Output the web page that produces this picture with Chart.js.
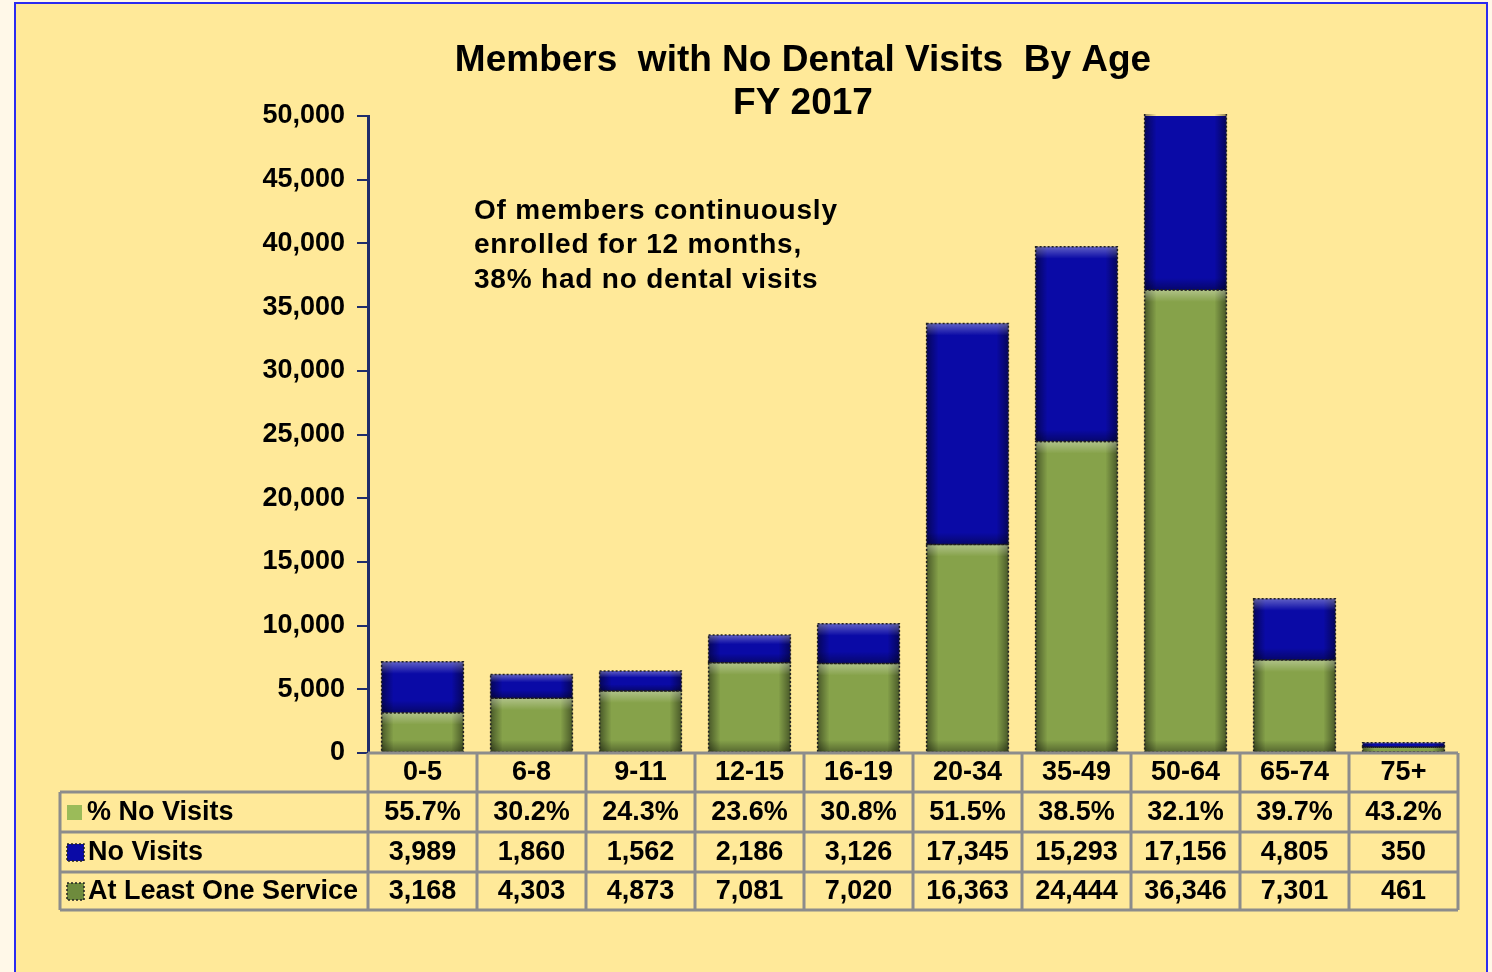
<!DOCTYPE html>
<html>
<head>
<meta charset="utf-8">
<script src="https://cdn.jsdelivr.net/npm/chart.js@4"></script>
<style>
  html, body { margin: 0; padding: 0; background: #FFF8E8; }
  canvas { display: block; }
</style>
</head>
<body>
<canvas id="myChart" width="1492" height="972"></canvas>
<script>
// chart data
let ageGroups = ['0-5', '6-8', '9-11', '12-15', '16-19', '20-34', '35-49', '50-64', '65-74', '75+'];
let noVisits = [3989, 1860, 1562, 2186, 3126, 17345, 15293, 17156, 4805, 350];
let atLeastOne = [3168, 4303, 4873, 7081, 7020, 16363, 24444, 36346, 7301, 461];
let pctNoVisits = ['55.7%', '30.2%', '24.3%', '23.6%', '30.8%', '51.5%', '38.5%', '32.1%', '39.7%', '43.2%'];
let titleLines = ['Members  with No Dental Visits  By Age', 'FY 2017'];
let noteLines = ['Of members continuously', 'enrolled for 12 months,', '38% had no dental visits'];

const FONT = '"Liberation Sans", Arial, sans-serif';
const BLUE = '#0A0AA6';
const GREEN = '#86A24A';

function fmt(n) {
  return n.toLocaleString('en-US');
}

// yellow panel with blue frame behind everything
const panelPlugin = {
  id: 'panel',
  beforeDraw(chart) {
    const ctx = chart.ctx;
    ctx.save();
    ctx.fillStyle = '#FFF8E8';
    ctx.fillRect(0, 0, chart.width, chart.height);
    ctx.fillStyle = '#FFE999';
    ctx.fillRect(16, 4, 1470, chart.height - 4);
    ctx.strokeStyle = '#2B2BF0';
    ctx.lineWidth = 2;
    ctx.beginPath();
    ctx.moveTo(15, chart.height);
    ctx.lineTo(15, 3);
    ctx.lineTo(1487, 3);
    ctx.lineTo(1487, chart.height);
    ctx.stroke();
    ctx.restore();
  }
};

// bevel shading on each bar segment
const bevelPlugin = {
  id: 'bevel',
  afterDatasetsDraw(chart) {
    const ctx = chart.ctx;
    const area = chart.chartArea;
    ctx.save();
    ctx.beginPath();
    ctx.rect(area.left, area.top - 2, area.right - area.left, area.bottom - area.top + 4);
    ctx.clip();
    chart.data.datasets.forEach((ds, di) => {
      chart.getDatasetMeta(di).data.forEach(el => {
        const p = el.getProps(['x', 'y', 'base', 'width'], true);
        const left = p.x - p.width / 2;
        const top = Math.min(p.y, p.base);
        const h = Math.abs(p.base - p.y);
        if (h < 1) return;
        const edge = Math.min(12, p.width / 6);
        let g = ctx.createLinearGradient(left, 0, left + edge, 0);
        g.addColorStop(0, 'rgba(0,0,0,0.45)');
        g.addColorStop(1, 'rgba(0,0,0,0)');
        ctx.fillStyle = g;
        ctx.fillRect(left, top, edge, h);
        g = ctx.createLinearGradient(left + p.width, 0, left + p.width - edge, 0);
        g.addColorStop(0, 'rgba(0,0,0,0.45)');
        g.addColorStop(1, 'rgba(0,0,0,0)');
        ctx.fillStyle = g;
        ctx.fillRect(left + p.width - edge, top, edge, h);
        const band = Math.min(12, h / 3);
        g = ctx.createLinearGradient(0, top, 0, top + band);
        g.addColorStop(0, 'rgba(255,255,255,0.35)');
        g.addColorStop(1, 'rgba(255,255,255,0)');
        ctx.fillStyle = g;
        ctx.fillRect(left, top, p.width, band);
        g = ctx.createLinearGradient(0, top + h, 0, top + h - band);
        g.addColorStop(0, 'rgba(0,0,0,0.35)');
        g.addColorStop(1, 'rgba(0,0,0,0)');
        ctx.fillStyle = g;
        ctx.fillRect(left, top + h - band, p.width, band);
        ctx.setLineDash([2, 2]);
        ctx.strokeStyle = '#222';
        ctx.lineWidth = 1.5;
        ctx.strokeRect(left, top, p.width, h);
        ctx.setLineDash([]);
      });
    });
    ctx.restore();
  }
};

// title, note and the data table under the bars
const tablePlugin = {
  id: 'dataTable',
  afterDraw(chart) {
    const ctx = chart.ctx;
    const xs = chart.scales.x;
    const area = chart.chartArea;
    const colW = (area.right - area.left) / ageGroups.length;
    const tableLeft = 60;
    const rows = [753, 792, 832, 872, 910];
    ctx.save();

    ctx.fillStyle = '#000';
    ctx.font = 'bold 37px ' + FONT;
    ctx.textAlign = 'center';
    ctx.textBaseline = 'middle';
    ctx.fillText(titleLines[0], 803, 61);
    ctx.fillText(titleLines[1], 803, 104);

    ctx.font = 'bold 28px ' + FONT;
    ctx.textAlign = 'left';
    ctx.letterSpacing = '0.8px';
    noteLines.forEach((t, i) => ctx.fillText(t, 474, 211 + i * 34.5));
    ctx.letterSpacing = '0px';

    // grid lines
    ctx.strokeStyle = '#8C8C8C';
    ctx.lineWidth = 3;
    ctx.beginPath();
    ctx.moveTo(area.left, rows[0]);
    ctx.lineTo(area.right, rows[0]);
    for (let r = 1; r < rows.length; r++) {
      ctx.moveTo(tableLeft, rows[r]);
      ctx.lineTo(area.right, rows[r]);
    }
    ctx.moveTo(tableLeft, rows[1]);
    ctx.lineTo(tableLeft, rows[4]);
    for (let i = 0; i <= ageGroups.length; i++) {
      const x = area.left + i * colW;
      ctx.moveTo(x, rows[0]);
      ctx.lineTo(x, rows[4]);
    }
    ctx.stroke();

    // cells
    ctx.fillStyle = '#000';
    ctx.font = 'bold 27px ' + FONT;
    ctx.textAlign = 'center';
    ageGroups.forEach((g, i) => {
      const x = xs.getPixelForValue(i);
      ctx.fillText(g, x, 773);
      ctx.fillText(pctNoVisits[i], x, 813);
      ctx.fillText(fmt(noVisits[i]), x, 853);
      ctx.fillText(fmt(atLeastOne[i]), x, 892);
    });

    // row headers with legend keys
    ctx.textAlign = 'left';
    ctx.fillText('% No Visits', 87, 813);
    ctx.fillText('No Visits', 88, 853);
    ctx.fillText('At Least One Service', 88, 892);
    ctx.fillStyle = '#9BBB59';
    ctx.fillRect(67, 805, 15, 15);
    ctx.fillStyle = BLUE;
    ctx.fillRect(67, 844, 17, 17);
    ctx.fillStyle = '#6E8B3D';
    ctx.fillRect(67, 883, 17, 17);
    ctx.setLineDash([2, 2]);
    ctx.strokeStyle = '#222';
    ctx.lineWidth = 1.5;
    ctx.strokeRect(67, 844, 17, 17);
    ctx.strokeRect(67, 883, 17, 17);
    ctx.restore();
  }
};

function makeChart() {
  let ctx = document.getElementById('myChart').getContext('2d');
  new Chart(ctx, {
    type: 'bar',
    data: {
      labels: ageGroups,
      datasets: [{
        label: 'At Least One Service',
        data: atLeastOne,
        backgroundColor: GREEN,
        barPercentage: 0.75,
        categoryPercentage: 1
      }, {
        label: 'No Visits',
        data: noVisits,
        backgroundColor: BLUE,
        barPercentage: 0.75,
        categoryPercentage: 1
      }]
    },
    options: {
      responsive: false,
      animation: false,
      layout: { padding: { left: 0, right: 34, top: 116, bottom: 219 } },
      plugins: {
        legend: { display: false },
        title: { display: false },
        tooltip: { enabled: false }
      },
      scales: {
        x: {
          stacked: true,
          display: false
        },
        y: {
          stacked: true,
          min: 0,
          max: 50000,
          afterFit(scale) { scale.width = 368; },
          border: { color: '#1F2D6B', width: 3 },
          grid: {
            drawOnChartArea: false,
            drawTicks: true,
            tickLength: 11,
            color: '#1F2D6B',
            lineWidth: 2
          },
          ticks: {
            stepSize: 5000,
            padding: 12,
            color: '#000',
            font: { family: FONT, size: 27, weight: 'bold' },
            callback: v => fmt(v)
          }
        }
      }
    },
    plugins: [panelPlugin, bevelPlugin, tablePlugin]
  });
}

makeChart();
</script>
</body>
</html>
